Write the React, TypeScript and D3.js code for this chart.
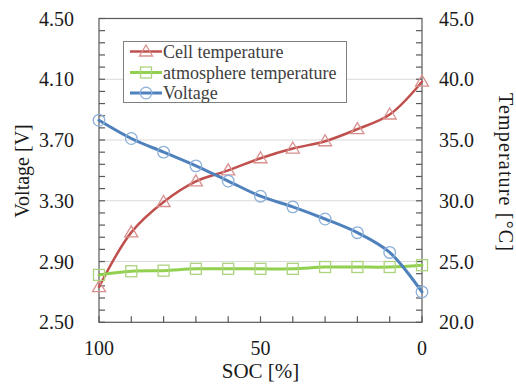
import * as d3 from "d3";

// SOC [%] along the x axis (reversed: 100 -> 0)
const soc = [100, 90, 80, 70, 60, 50, 40, 30, 20, 10, 0];
// Voltage [V] (left axis)
const voltage = [3.83, 3.71, 3.62, 3.53, 3.43, 3.33, 3.26, 3.18, 3.09, 2.96, 2.7];
// Cell temperature [°C] (right axis)
const cellTemp = [22.9, 27.4, 29.9, 31.6, 32.5, 33.5, 34.3, 34.9, 35.9, 37.1, 39.8];
// atmosphere temperature [°C] (right axis)
const atmTemp = [23.9, 24.2, 24.25, 24.4, 24.4, 24.4, 24.4, 24.55, 24.55, 24.55, 24.7];

const voltTicks = [2.5, 2.9, 3.3, 3.7, 4.1, 4.5];
const tempTicks = [20, 25, 30, 35, 40, 45];
const socLabels = [100, 50, 0];

const W = 516;
const H = 385;
const FONT = "Liberation Serif";

const left = 99, right = 422, top = 18.5, bottom = 322.3;
const x = d3.scaleLinear().domain([100, 0]).range([left, right]);
const yV = d3.scaleLinear().domain([2.5, 4.5]).range([bottom, top]);
const yT = d3.scaleLinear().domain([20, 45]).range([bottom, top]);
const axisColor = "#595959";
const textColor = "#1a1a1a";

const minorV = d3.range(0, 26).map((i) => 2.5 + i * 0.08);
const minorT = d3.range(20, 46, 1);
const tickX = d3.range(0, 101, 10);

const series = [
  { name: "Cell temperature", values: cellTemp, y: yT, line: "#c0504d", marker: "#d8908e", shape: "triangle", width: 2.5 },
  { name: "atmosphere temperature", values: atmTemp, y: yT, line: "#92d050", marker: "#aed37e", shape: "square", width: 3 },
  { name: "Voltage", values: voltage, y: yV, line: "#4f81bd", marker: "#8db0d9", shape: "circle", width: 3 },
];

const Marker = ({ shape, color, cx, cy }: { shape: string; color: string; cx: number; cy: number }) => {
  if (shape === "triangle")
    return (
      <path
        d={`M${cx},${cy - 6.5} L${cx + 6.5},${cy + 4.5} L${cx - 6.5},${cy + 4.5} Z`}
        fill="none"
        stroke={color}
        strokeWidth={1.3}
      />
    );
  if (shape === "square")
    return <rect x={cx - 5.5} y={cy - 5.5} width={11} height={11} fill="none" stroke={color} strokeWidth={1.3} />;
  return <circle cx={cx} cy={cy} r={5.8} fill="none" stroke={color} strokeWidth={1.3} />;
};

const lineGen = d3.line().curve(d3.curveCatmullRom.alpha(0.5));

const App = () => {
  const legendRows = [51.5, 72.5, 93];
  return (
    <svg width={W} height={H} style={{ position: "absolute", left: 0, top: 0, background: "#fff" }}>
      {/* gridlines */}
      {voltTicks.slice(1, -1).map((d) => (
        <line key={d} x1={left} x2={right} y1={yV(d)} y2={yV(d)} stroke="#d9d9d9" strokeWidth={1} />
      ))}
      {/* frame */}
      <rect x={left} y={top} width={right - left} height={bottom - top} fill="none" stroke={axisColor} strokeWidth={1.2} />
      {/* inward ticks */}
      {minorV.map((d) => (
        <line key={"l" + d} x1={left} x2={left + 6} y1={yV(d)} y2={yV(d)} stroke={axisColor} strokeWidth={1.2} />
      ))}
      {minorT.map((d) => (
        <line key={"r" + d} x1={right - 6} x2={right} y1={yT(d)} y2={yT(d)} stroke={axisColor} strokeWidth={1.2} />
      ))}
      {tickX.map((d) => (
        <line key={"b" + d} x1={x(d)} x2={x(d)} y1={bottom - 6} y2={bottom} stroke={axisColor} strokeWidth={1.2} />
      ))}
      {/* tick labels */}
      <g fontFamily={FONT} fontSize={20} fill={textColor}>
        {voltTicks.map((d) => (
          <text key={d} x={left - 25} y={yV(d)} dy="0.35em" textAnchor="end">
            {d.toFixed(2)}
          </text>
        ))}
        {tempTicks.map((d) => (
          <text key={d} x={right + 17} y={yT(d)} dy="0.35em" textAnchor="start">
            {d.toFixed(1)}
          </text>
        ))}
        {socLabels.map((d) => (
          <text key={d} x={x(d)} y={355} textAnchor="middle">
            {d}
          </text>
        ))}
      </g>
      {/* axis titles */}
      <g fontFamily={FONT} fontSize={20} fill={textColor}>
        <text x={(left + right) / 2} y={378} textAnchor="middle" fontSize={21}>
          SOC [%]
        </text>
        <text transform="translate(29,171) rotate(-90)" textAnchor="middle">
          Voltage [V]
        </text>
        <text
          transform="translate(499,172) rotate(90)"
          textAnchor="middle"
          textLength={158}
          lengthAdjust="spacing"
        >
          Temperature [°C]
        </text>
      </g>
      {/* series */}
      {series.map((s) => {
        const pts: [number, number][] = soc.map((d, i) => [x(d), s.y(s.values[i])]);
        return (
          <g key={s.name}>
            <path d={lineGen(pts) || ""} fill="none" stroke={s.line} strokeWidth={s.width} strokeLinecap="round" />
            {pts.map(([cx, cy], i) => (
              <Marker key={i} shape={s.shape} color={s.marker} cx={cx} cy={cy} />
            ))}
          </g>
        );
      })}
      {/* legend */}
      <rect x={123.5} y={41.5} width={223} height={61} fill="#fff" stroke="#808080" strokeWidth={1} />
      {series.map((s, i) => {
        const cy = legendRows[i];
        return (
          <g key={"lg" + s.name}>
            <line x1={130} x2={162} y1={cy} y2={cy} stroke={s.line} strokeWidth={s.width} />
            <Marker shape={s.shape} color={s.marker} cx={146} cy={cy} />
            <text x={163} y={cy} dy="0.35em" fontFamily={FONT} fontSize={18} fill="#404040">
              {s.name}
            </text>
          </g>
        );
      })}
    </svg>
  );
};

export default App;
